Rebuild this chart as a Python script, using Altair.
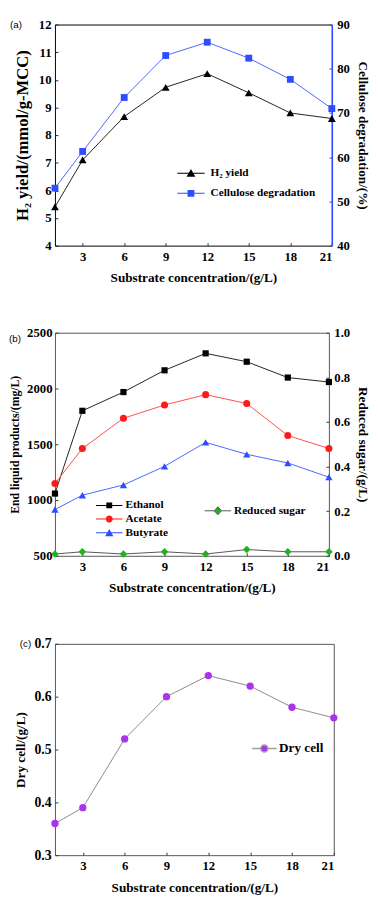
import altair as alt
import pandas as pd

# ---------------- data ----------------
x_vals = [1, 3, 6, 9, 12, 15, 18, 21]
x_ticks = [3, 6, 9, 12, 15, 18, 21]

h2_yield = [5.4, 7.1, 8.67, 9.73, 10.22, 9.53, 8.8, 8.6]
cellulose = [53.0, 61.3, 73.5, 83.0, 86.0, 82.4, 77.6, 71.0]

ethanol = [1058, 1800, 1968, 2163, 2315, 2240, 2098, 2058]
acetate = [1148, 1462, 1733, 1852, 1945, 1865, 1578, 1462]
butyrate = [915, 1043, 1135, 1302, 1517, 1410, 1332, 1205]
reduced_sugar = [0.008, 0.018, 0.008, 0.018, 0.008, 0.028, 0.018, 0.018]

dry_cell = [0.36, 0.39, 0.52, 0.60, 0.64, 0.62, 0.58, 0.56]

names_a = ["H\u2082 yield", "Cellulose degradation"]
names_b = ["Ethanol", "Acetate", "Butyrate"]
name_sugar = ["Reduced sugar"]
name_dry = ["Dry cell"]
panel_labels = ["(a)", "(b)", "(c)"]

ticks_a_left = [4, 5, 6, 7, 8, 9, 10, 11, 12]
ticks_a_right = [40, 50, 60, 70, 80, 90]
ticks_b_left = [500, 1000, 1500, 2000, 2500]
ticks_b_right = [0, 0.2, 0.4, 0.6, 0.8, 1.0]
ticks_c = [0.3, 0.4, 0.5, 0.6, 0.7]

# ---------------- style ----------------
FONT = "Liberation Serif"
BLACK_LINE = "#222222"
BLUE = "#2f4dff"
BLUE_LINE = "#4a66ff"
RED = "#ff1a1a"
RED_LINE = "#ff4d4d"
GREEN = "#22b022"
PURPLE = "#aa33ee"
FRAME_GRAY = "#555555"

Wa, Ha = 283, 226
Wb, Hb = 280, 228
Wc, Hc = 285, 216

xs = alt.Scale(domain=[1, 21], nice=False, zero=False)
X_AXIS = alt.Axis(values=x_ticks, title="Substrate concentration/(g/L)", ticks=False,
                  grid=False, domain=False, labelPadding=5, titlePadding=8)


def yscale(dom):
    return alt.Scale(domain=dom, nice=False, zero=False)


def series(df, col, ydomain, yaxis, line_color, pt_color, shape, size, xaxis=X_AXIS):
    line = alt.Chart(df).mark_line(color=line_color, strokeWidth=1).encode(
        x=alt.X("x:Q", scale=xs, axis=xaxis),
        y=alt.Y(f"{col}:Q", scale=yscale(ydomain), axis=yaxis),
    )
    pts = alt.Chart(df).mark_point(filled=True, shape=shape, size=size, color=pt_color,
                                   opacity=1, strokeWidth=0).encode(
        x=alt.X("x:Q", scale=xs, axis=xaxis),
        y=alt.Y(f"{col}:Q", scale=yscale(ydomain), axis=yaxis),
    )
    return [line, pts]


def inner_ticks(df, col, ydomain, yvalues, side, W, H, color, with_x):
    """Invisible layer that only carries tick marks pointing into the plot frame."""
    yax = alt.Axis(orient="right" if side == "left" else "left", offset=-W, values=yvalues,
                   labels=False, ticks=True, tickSize=3, tickWidth=1, tickColor=color,
                   domain=False, grid=False, title=None)
    xax = alt.Axis(orient="top", offset=-H, values=x_ticks, labels=False, ticks=True,
                   tickSize=3, tickWidth=1, tickColor="#333333", domain=False, grid=False,
                   title=None) if with_x else None
    return alt.Chart(df).mark_point(opacity=0).encode(
        x=alt.X("x:Q", scale=xs, axis=xax),
        y=alt.Y(f"{col}:Q", scale=yscale(ydomain), axis=yax),
    )


def panel_label(txt, dx, dy):
    return alt.Chart(pd.DataFrame({"label": [txt]})).mark_text(
        font="Liberation Sans", fontSize=10, align="left", baseline="middle", color="black"
    ).encode(text="label:N", x=alt.value(dx), y=alt.value(dy))


# legend symbols (custom paths: line + marker)
def hline(h, t):
    return f"M-{h},-{t}H{h}V{t}H-{h}Z"


P_TRI_A = hline(2.33, 0.085) + "M0,-0.72L0.75,0.6H-0.75Z"
P_SQ_A = hline(2.33, 0.085) + "M-0.58,-0.58H0.58V0.58H-0.58Z"
P_SQ_B = hline(2.25, 0.085) + "M-0.5,-0.5H0.5V0.5H-0.5Z"
P_CIR_B = hline(2.25, 0.085) + "M-0.6,0A0.6,0.6 0 1 1 0.6,0A0.6,0.6 0 1 1 -0.6,0Z"
P_TRI_B = hline(2.25, 0.085) + "M0,-0.66L0.7,0.58H-0.7Z"
P_DIA_B = "M-2.25,0H-0.62M0.62,0H2.25M0,-0.68L0.62,0L0,0.68L-0.62,0Z"
P_CIR_C = "M-2.1,0H-0.62M0.62,0H2.1M-0.6,0A0.6,0.6 0 1 1 0.6,0A0.6,0.6 0 1 1 -0.6,0Z"


def legend(x, y, size=11.5, offset=14, row_pad=8, **kw):
    return alt.Legend(orient="none", legendX=x, legendY=y, title=None, labelFont=FONT,
                      labelFontSize=size, labelFontWeight="bold", labelColor="black",
                      symbolSize=144, symbolOpacity=1, labelOffset=offset,
                      rowPadding=row_pad, padding=0, **kw)


def multi_legend(names, colors, paths, leg):
    return alt.Chart(pd.DataFrame({"series": names})).mark_point(
        filled=True, opacity=0, strokeWidth=0).encode(
        fill=alt.Fill("series:N", scale=alt.Scale(domain=names, range=colors), legend=leg),
        shape=alt.Shape("series:N", scale=alt.Scale(domain=names, range=paths), legend=leg),
    )


def single_legend(names, color, line_color, leg):
    return alt.Chart(pd.DataFrame({"series": names})).mark_point(
        filled=True, opacity=0, stroke=line_color, strokeWidth=1).encode(
        color=alt.Color("series:N", scale=alt.Scale(domain=names, range=[color]), legend=leg),
    )


# ---------------- panel (a) ----------------
df_a = pd.DataFrame({"x": x_vals, "h2": h2_yield, "cell": cellulose})
ax_a_left = alt.Axis(title="H\u2082 yield/(mmol/g-MCC)", values=ticks_a_left, orient="left",
                     ticks=False, grid=False, domain=False, labelPadding=4, titlePadding=7,
                     titleFontSize=17)
ax_a_right = alt.Axis(title="Cellulose degradation/(%)", values=ticks_a_right,
                      orient="right", ticks=False, grid=False, domain=True, domainColor=BLUE,
                      domainWidth=1.5, labelPadding=5, titlePadding=6, titleFontSize=13.5)
left_a = alt.layer(*series(df_a, "h2", [4, 12], ax_a_left, BLACK_LINE, "black", "triangle-up", 64))
right_a = alt.layer(*series(df_a, "cell", [40, 90], ax_a_right, BLUE_LINE, BLUE, "square", 49,
                            xaxis=None))
leg_a = multi_legend(names_a, ["black", BLUE], [P_TRI_A, P_SQ_A],
                     legend(133, 146, size=11.5, offset=14, row_pad=8.5, symbolStrokeWidth=0))
panel_a = alt.layer(
    left_a, right_a,
    inner_ticks(df_a, "h2", [4, 12], ticks_a_left, "left", Wa, Ha, "#222222", True),
    inner_ticks(df_a, "cell", [40, 90], ticks_a_right, "right", Wa, Ha, BLUE, False),
    leg_a, panel_label(panel_labels[0], -46, 0.5),
).resolve_scale(y="independent").resolve_axis(x="independent", y="independent").properties(
    width=Wa, height=Ha, view=alt.ViewBackground(stroke="black", strokeWidth=1))

# ---------------- panel (b) ----------------
df_b = pd.DataFrame({"x": x_vals, "eth": ethanol, "ace": acetate, "but": butyrate,
                     "sug": reduced_sugar})
ax_b_left = alt.Axis(title="End liquid products/(mg/L)", values=ticks_b_left,
                     format="d", orient="left", ticks=False, grid=False, domain=False,
                     labelPadding=3, titlePadding=5, titleFontSize=12)
ax_b_right = alt.Axis(title="Reduced sugar/(g/L)", values=ticks_b_right,
                      format=".1f", orient="right", ticks=False, grid=False, domain=False,
                      labelPadding=5, titlePadding=6)
left_b = alt.layer(
    *series(df_b, "eth", [500, 2500], ax_b_left, BLACK_LINE, "black", "square", 40),
    *series(df_b, "ace", [500, 2500], ax_b_left, RED_LINE, RED, "circle", 52),
    *series(df_b, "but", [500, 2500], ax_b_left, BLUE_LINE, BLUE, "triangle-up", 56),
)
right_b = alt.layer(*series(df_b, "sug", [0, 1], ax_b_right, FRAME_GRAY, GREEN, "diamond", 60,
                            xaxis=None))
leg_b = multi_legend(names_b, ["black", RED, BLUE], [P_SQ_B, P_CIR_B, P_TRI_B],
                     legend(49.5, 170.5, size=11.5, offset=10.5, row_pad=2, symbolStrokeWidth=0))
leg_sugar = single_legend(name_sugar, GREEN, FRAME_GRAY,
                          legend(160, 175.5, size=11.5, offset=10, row_pad=1, symbolType=P_DIA_B,
                                 symbolStrokeColor=FRAME_GRAY, symbolStrokeWidth=1))
panel_b = alt.layer(
    left_b, right_b,
    inner_ticks(df_b, "eth", [500, 2500], ticks_b_left, "left", Wb, Hb, "#333333", True),
    inner_ticks(df_b, "sug", [0, 1], ticks_b_right, "right", Wb, Hb, "#333333", False),
    leg_b, leg_sugar, panel_label(panel_labels[1], -47, 6),
).resolve_scale(y="independent").resolve_axis(x="independent", y="independent").properties(
    width=Wb, height=Hb, view=alt.ViewBackground(stroke=FRAME_GRAY, strokeWidth=1))

# ---------------- panel (c) ----------------
df_c = pd.DataFrame({"x": x_vals, "dry": dry_cell})
ax_c = alt.Axis(title="Dry cell/(g/L)", values=ticks_c, format=".1f",
                orient="left", ticks=False, grid=False, domain=False, labelPadding=4,
                titlePadding=7, labelFontSize=14)
main_c = alt.layer(*series(df_c, "dry", [0.3, 0.7], ax_c, "#8a8a8a", PURPLE, "circle", 56))
leg_c = single_legend(name_dry, PURPLE, "#a0a0a0",
                      legend(207, 100, size=13.5, offset=8, row_pad=1, symbolType=P_CIR_C,
                             symbolStrokeColor="#a0a0a0", symbolStrokeWidth=1.5))
panel_c = alt.layer(
    main_c,
    inner_ticks(df_c, "dry", [0.3, 0.7], ticks_c, "left", Wc, Hc, "#333333", True),
    leg_c, panel_label(panel_labels[2], -36, 0),
).resolve_scale(y="independent").resolve_axis(x="independent", y="independent").properties(
    width=Wc, height=Hc, view=alt.ViewBackground(stroke=FRAME_GRAY, strokeWidth=1))

chart = alt.vconcat(panel_a, panel_b, panel_c, spacing=42).resolve_scale(
    color="independent", fill="independent", shape="independent"
).resolve_legend(
    color="independent", fill="independent", shape="independent"
).properties(
    padding=0, background="white"
).configure_axis(
    labelFont=FONT, labelFontSize=13, labelFontWeight="bold", labelColor="black",
    titleFont=FONT, titleFontSize=13.5, titleFontWeight="bold", titleColor="black",
)

chart.save("out.html", embed_options={"renderer": "svg", "actions": False})
